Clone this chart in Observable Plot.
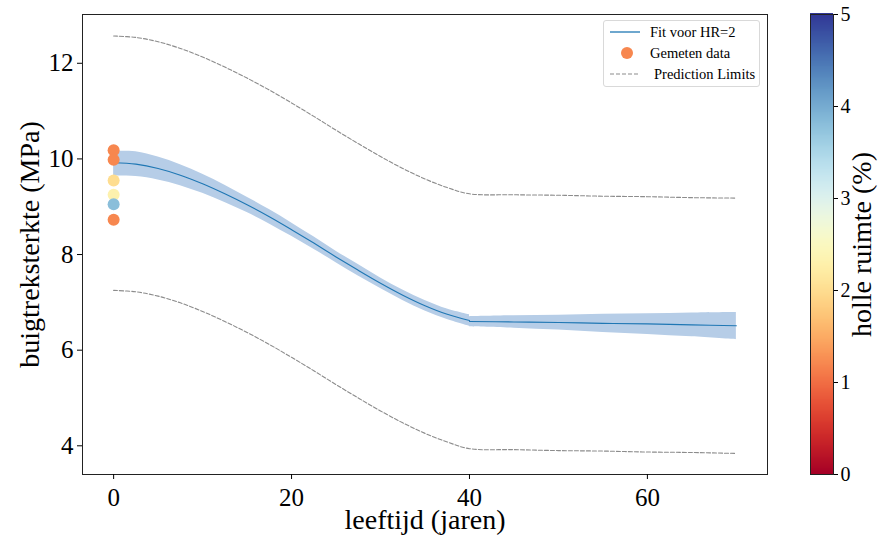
<!DOCTYPE html>
<html>
<head>
<meta charset="utf-8">
<script src="https://cdn.jsdelivr.net/npm/d3@7"></script>
<script src="https://cdn.jsdelivr.net/npm/@observablehq/plot@0.6"></script>
<style>
  html, body { margin: 0; padding: 0; background: #fff; }
  #wrap { position: relative; width: 880px; height: 540px; font-family: "Liberation Serif", "Times New Roman", serif; }
  #wrap > svg { position: absolute; top: 0; }
  #wrap svg, #wrap svg text { font-family: "Liberation Serif", "Times New Roman", serif !important; }
  #legend { position: absolute; left: 603px; top: 20px; width: 157px; height: 67px; box-sizing: border-box;
            border: 1px solid #d9d9d9; border-radius: 3px; background: #fff; font-size: 14.5px; color: #000; }
  #legend .row { position: absolute; left: 0; height: 20px; display: flex; align-items: center; }
  #legend svg { position: static; }
</style>
</head>
<body>
<div id="wrap"></div>
<script>
// ---- data ----
const fitAgeA  = [0, 2.5, 5, 7.5, 10, 12.5, 15, 17.5, 20, 22.5, 25, 27.5, 30, 32.5, 35, 37.5, 40];
const fitA     = [9.92, 9.89, 9.80, 9.66, 9.48, 9.27, 9.04, 8.79, 8.52, 8.24, 7.95, 7.67, 7.40, 7.15, 6.93, 6.75, 6.62];
const bandLoA  = [9.64, 9.63, 9.56, 9.44, 9.28, 9.09, 8.88, 8.64, 8.38, 8.11, 7.83, 7.55, 7.29, 7.04, 6.82, 6.64, 6.50];
const bandHiA  = [10.16, 10.15, 10.04, 9.88, 9.68, 9.45, 9.20, 8.94, 8.66, 8.37, 8.07, 7.79, 7.51, 7.26, 7.04, 6.86, 6.74];

const fitAgeB  = [40, 45, 50, 55, 60, 65, 70];
const fitB     = [6.60, 6.59, 6.58, 6.56, 6.55, 6.53, 6.51];
const bandLoB  = [6.49, 6.46, 6.42, 6.37, 6.33, 6.28, 6.22];
const bandHiB  = [6.70, 6.72, 6.73, 6.75, 6.76, 6.78, 6.79];

const piAge    = [0, 2.5, 5, 7.5, 10, 12.5, 15, 17.5, 20, 22.5, 25, 27.5, 30, 32.5, 35, 37.5, 40, 45, 50, 55, 60, 65, 70];
const piUpper  = [12.57, 12.54, 12.45, 12.31, 12.13, 11.92, 11.69, 11.44, 11.17, 10.89, 10.60, 10.32, 10.05, 9.80, 9.58, 9.40, 9.27, 9.25, 9.24, 9.22, 9.21, 9.19, 9.18];
const piLower  = [7.25, 7.22, 7.13, 6.99, 6.81, 6.60, 6.37, 6.12, 5.85, 5.57, 5.28, 5.00, 4.73, 4.48, 4.26, 4.08, 3.94, 3.92, 3.90, 3.89, 3.87, 3.86, 3.84];

const measAge      = [0, 0, 0, 0, 0, 0];
const measStrength = [10.18, 9.98, 9.55, 9.25, 9.05, 8.73];
const measVoid     = [1.2, 1.2, 2.0, 2.3, 3.8, 1.2];

const xTicks = [0, 20, 40, 60];
const yTicks = [4, 6, 8, 10, 12];
const cTicks = [0, 1, 2, 3, 4, 5];

const xLabel = "leeftijd (jaren)";
const yLabel = "buigtreksterkte (MPa)";
const cLabel = "holle ruimte (%)";

const lineColor = "#1f77b4";
const bandColor = "#b6cde7";
const piColor = "#8c8c8c";
const font = "Liberation Serif";

// ---- tables ----
const segA = fitAgeA.map((a, i) => ({age: a, fit: fitA[i], lo: bandLoA[i], hi: bandHiA[i], seg: "A"}));
const segB = fitAgeB.map((a, i) => ({age: a, fit: fitB[i], lo: bandLoB[i], hi: bandHiB[i], seg: "B"}));
const fitRows = segA.concat(segB);
const piRows = piAge.flatMap((a, i) => [{age: a, v: piUpper[i], k: "u"}, {age: a, v: piLower[i], k: "l"}]);
const meas = measAge.map((a, i) => ({age: a, s: measStrength[i], h: measVoid[i]}));

const colorScale = {type: "linear", scheme: "RdYlBu", domain: [0, 5]};

const main = Plot.plot({
  width: 880, height: 540,
  marginLeft: 82, marginRight: 113, marginTop: 14, marginBottom: 66,
  style: {fontFamily: font, background: "transparent", color: "#000"},
  x: {domain: [-3.5, 73.5]},
  y: {domain: [3.40, 13.02]},
  color: colorScale,
  marks: [
    Plot.areaY(fitRows, {x: "age", y1: "lo", y2: "hi", z: "seg", fill: bandColor, curve: "catmull-rom"}),
    Plot.line(fitRows, {x: "age", y: "fit", z: "seg", stroke: lineColor, strokeWidth: 1.1, curve: "catmull-rom"}),
    Plot.line(piRows, {x: "age", y: "v", z: "k", stroke: piColor, strokeWidth: 1.1, strokeDasharray: "4,2", curve: "catmull-rom"}),
    Plot.dot(meas, {x: "age", y: "s", fill: d => d.h, r: 6, stroke: null}),
    Plot.frame({stroke: "#222", strokeWidth: 1}),
    Plot.axisX({ticks: xTicks, tickSize: 5, tickPadding: 9, fontSize: 25, label: null}),
    Plot.axisY({ticks: yTicks, tickSize: 5, tickPadding: 4, fontSize: 25, label: null}),
    Plot.text([xLabel], {frameAnchor: "bottom", dy: 54, fontSize: 28, textAnchor: "middle", text: d => d}),
    Plot.text([yLabel], {frameAnchor: "left", dx: -52, rotate: -90, fontSize: 28, textAnchor: "middle", text: d => d})
  ]
});

// colorbar
const stripes = d3.range(0, 5, 0.01);
const cbar = Plot.plot({
  width: 100, height: 540,
  marginLeft: 30, marginRight: 47, marginTop: 14, marginBottom: 66,
  style: {fontFamily: font, background: "transparent", color: "#000"},
  x: {domain: [0, 1], axis: null},
  y: {domain: [0, 5]},
  color: colorScale,
  marks: [
    Plot.rect(stripes, {x1: 0, x2: 1, y1: d => d, y2: d => d + 0.02, fill: d => d + 0.005, shapeRendering: "crispEdges"}),
    Plot.frame({stroke: "#222", strokeWidth: 1}),
    Plot.axisY({anchor: "right", ticks: cTicks, tickFormat: d3.format("d"), tickSize: 4, tickPadding: 3, fontSize: 20, label: null}),
    Plot.text([cLabel], {frameAnchor: "right", dx: 29, rotate: -90, fontSize: 28, textAnchor: "middle", text: d => d})
  ]
});

const wrap = document.getElementById("wrap");
main.style.left = "0px";
cbar.style.left = "780px";
cbar.style.overflow = "visible";
wrap.appendChild(main);
wrap.appendChild(cbar);

// legend
const legend = document.createElement("div");
legend.id = "legend";
legend.innerHTML = `
  <div class="row" style="top:1px"><svg width="46" height="20"><line x1="6" x2="36" y1="10" y2="10" stroke="${lineColor}" stroke-width="1.3"/></svg><span>Fit voor HR=2</span></div>
  <div class="row" style="top:22px"><svg width="46" height="20"><circle cx="23" cy="10" r="6" fill="${d3.interpolateRdYlBu(1.2/5)}"/></svg><span>Gemeten data</span></div>
  <div class="row" style="top:43px"><svg width="50" height="20"><line x1="6" x2="36" y1="10" y2="10" stroke="${piColor}" stroke-width="1.1" stroke-dasharray="4,2"/></svg><span>Prediction Limits</span></div>`;
wrap.appendChild(legend);
</script>
</body>
</html>
